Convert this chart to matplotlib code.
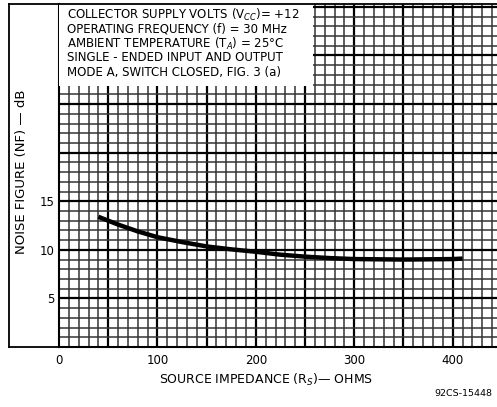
import matplotlib
matplotlib.use("Agg")
import matplotlib.pyplot as plt
import numpy as np
from matplotlib.lines import Line2D

# Data
source_impedance = [40, 60, 80, 100, 125, 150, 175, 200, 225, 250, 275, 300, 350, 400, 410]
noise_figure = [13.4, 12.6, 11.9, 11.3, 10.8, 10.35, 10.05, 9.8, 9.5, 9.3, 9.15, 9.05, 9.0, 9.05, 9.1]
x_ticks = [0, 100, 200, 300, 400]
x_tick_labels = ["0", "100", "200", "300", "400"]
y_ticks = [5, 10, 15]
y_tick_labels = ["5", "10", "15"]
note_lines = [
    "COLLECTOR SUPPLY VOLTS (V$_{CC}$)= +12",
    "OPERATING FREQUENCY (f) = 30 MHz",
    "AMBIENT TEMPERATURE (T$_{A}$) = 25\u00b0C",
    "SINGLE - ENDED INPUT AND OUTPUT",
    "MODE A, SWITCH CLOSED, FIG. 3 (a)",
]

W, H = 497, 407
fig = plt.figure(figsize=(W / 100, H / 100), dpi=100)
fig.patch.set_facecolor("white")

left, right, bottom, top = 59 / W, 1.0, (H - 347) / H, (H - 4) / H
ax = fig.add_axes([left, bottom, right - left, top - bottom])
ax.set_xlim(0, 445)
ax.set_ylim(0, 35.3)

# graph-paper grid
for xv in np.arange(10, 445, 10):
    major = (xv % 50 == 0)
    ax.axvline(xv, color="black" if major else "#333333", lw=1.6 if major else 1.1, zorder=1)
for yv in np.arange(1, 36, 1):
    major = (yv % 5 == 0)
    ax.axhline(yv, color="black" if major else "#333333", lw=1.6 if major else 1.1, zorder=1)

ax.plot(source_impedance, noise_figure, color="black", lw=3.2, solid_capstyle="butt", zorder=5)

ax.set_xticks(x_ticks)
ax.set_xticklabels(x_tick_labels, fontsize=8.5)
ax.set_yticks(y_ticks)
ax.set_yticklabels(y_tick_labels, fontsize=8.5)
ax.tick_params(axis="x", length=0, pad=5)
ax.tick_params(axis="y", length=0, pad=3)
for s in ["top", "right"]:
    ax.spines[s].set_visible(False)
ax.spines["left"].set_linewidth(1.5)
ax.spines["bottom"].set_linewidth(1.5)

# white note box
ax.add_patch(plt.Rectangle((0, 26.9), 258, 9, facecolor="white", edgecolor="none", zorder=6,
                           transform=ax.transData, clip_on=True))
for i, t in enumerate(note_lines):
    fig.text(67 / W, 1 - (15 + i * 14.3) / H, t, fontsize=8.5, va="center", ha="left", zorder=10)

# outer frame
fig.add_artist(Line2D([9 / W, 9 / W], [bottom, top], color="black", lw=1.3, transform=fig.transFigure))
fig.add_artist(Line2D([9 / W, left], [bottom, bottom], color="black", lw=1.3, transform=fig.transFigure))
fig.add_artist(Line2D([9 / W, 1.0], [top, top], color="black", lw=1.3, transform=fig.transFigure))

fig.text(22 / W, 1 - 172 / H, "NOISE FIGURE (NF) \u2014 dB", rotation=90, fontsize=9.5,
         ha="center", va="center")
fig.text(266 / W, 1 - 380 / H, "SOURCE IMPEDANCE (R$_{S}$)\u2014 OHMS", fontsize=9,
         ha="center", va="center")
fig.text(492 / W, 1 - 393 / H, "92CS-15448", fontsize=6.8, ha="right", va="center")

fig.savefig("out.png", dpi=100, facecolor="white")
